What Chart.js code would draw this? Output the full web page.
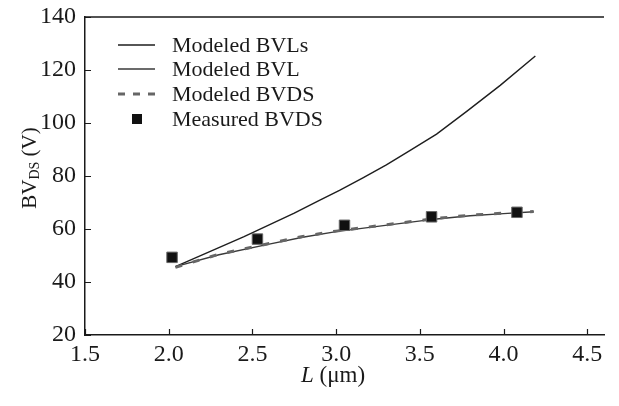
<!DOCTYPE html>
<html>
<head>
<meta charset="utf-8">
<script src="https://cdn.jsdelivr.net/npm/chart.js@4"></script>
<style>
  html, body { margin: 0; padding: 0; background: #fff; }
  #wrap { width: 619px; height: 406px; }
</style>
</head>
<body>
<div id="wrap"><canvas id="bv-chart" width="619" height="406"></canvas></div>
<script>
/* breakdown voltage vs. channel length L (um) */
const bvlsL = [2.04, 2.45, 2.75, 2.9, 3.02, 3.16, 3.3, 3.44, 3.6, 3.78, 3.98, 4.19];
const bvlsV = [45.8, 57.1, 66.0, 70.8, 74.6, 79.3, 84.2, 89.6, 95.8, 104.4, 114.2, 125.3];

const bvlL = [2.04, 2.3, 2.6, 2.8, 3.0, 3.2, 3.4, 3.6, 3.8, 4.0, 4.18];
const bvlV = [45.8, 50.3, 54.3, 56.9, 59.0, 60.6, 62.2, 63.8, 65.0, 65.8, 66.5];

const bvdsL = [2.04, 2.3, 2.6, 2.8, 3.0, 3.2, 3.4, 3.6, 3.8, 4.0, 4.18];
const bvdsV = [45.5, 50.5, 54.5, 57.2, 59.2, 60.8, 62.4, 64.0, 65.2, 66.0, 66.6];

const measL = [2.02, 2.53, 3.05, 3.57, 4.08];
const measV = [49.3, 56.2, 61.4, 64.6, 66.3];

const seriesNames = ['Modeled BVLs', 'Modeled BVL', 'Modeled BVDS', 'Measured BVDS'];
const xTicks = [1.5, 2.0, 2.5, 3.0, 3.5, 4.0, 4.5];
const yTicks = [20, 40, 60, 80, 100, 120, 140];

const serif = '"Liberation Serif", "DejaVu Serif", serif';
const ink = '#1a1a1a';

function pts(xs, ys) {
  return xs.map((x, i) => ({ x: x, y: ys[i] }));
}

const data = {
  datasets: [
    {
      label: seriesNames[3],
      data: pts(measL, measV),
      showLine: false,
      pointStyle: 'rect',
      pointRadius: 7.4,
      pointBackgroundColor: '#111',
      pointBorderColor: '#666',
      pointBorderWidth: 1,
      order: 0,
    },
    {
      label: seriesNames[2],
      data: pts(bvdsL, bvdsV),
      borderColor: '#666',
      borderWidth: 3,
      borderDash: [7, 11],
      pointRadius: 0,
      order: 1,
    },
    {
      label: seriesNames[1],
      data: pts(bvlL, bvlV),
      borderColor: '#3a3a3a',
      borderWidth: 1.4,
      pointRadius: 0,
      order: 2,
    },
    {
      label: seriesNames[0],
      data: pts(bvlsL, bvlsV),
      borderColor: '#1e1e1e',
      borderWidth: 1.4,
      pointRadius: 0,
      order: 3,
    },
  ],
};

/* frame top line, inward tick marks, axis titles and the in-plot legend */
const decor = {
  id: 'decor',
  afterDraw(chart) {
    const ctx = chart.ctx;
    const a = chart.chartArea;
    const xs = chart.scales.x;
    const ys = chart.scales.y;
    ctx.save();

    ctx.strokeStyle = ink;
    ctx.lineWidth = 1.5;
    ctx.beginPath();
    ctx.moveTo(a.left, a.top);
    ctx.lineTo(a.right, a.top);
    ctx.stroke();

    // tick marks pointing into the plot
    ctx.lineWidth = 1.2;
    ctx.beginPath();
    xTicks.forEach((v) => {
      const px = Math.round(xs.getPixelForValue(v)) + 0.5;
      ctx.moveTo(px, a.bottom);
      ctx.lineTo(px, a.bottom - 6);
    });
    yTicks.forEach((v) => {
      const py = Math.round(ys.getPixelForValue(v)) + 0.5;
      ctx.moveTo(a.left, py);
      ctx.lineTo(a.left + 6, py);
    });
    ctx.stroke();

    ctx.fillStyle = ink;
    ctx.textBaseline = 'middle';

    // x title: italic L (um)
    const xt1 = 'L';
    const xt2 = ' (\u03bcm)';
    ctx.font = 'italic 23px ' + serif;
    const w1 = ctx.measureText(xt1).width;
    ctx.font = '23px ' + serif;
    const w2 = ctx.measureText(xt2).width;
    const x0 = 333 - (w1 + w2) / 2;
    ctx.textAlign = 'left';
    ctx.font = 'italic 23px ' + serif;
    ctx.fillText(xt1, x0, 376);
    ctx.font = '23px ' + serif;
    ctx.fillText(xt2, x0 + w1, 376);

    // y title: BV_DS (V), rotated
    ctx.save();
    ctx.translate(30, 168);
    ctx.rotate(-Math.PI / 2);
    ctx.font = '21px ' + serif;
    const b1 = ctx.measureText('BV').width;
    const b3 = ctx.measureText(' (V)').width;
    ctx.font = '14px ' + serif;
    const b2 = ctx.measureText('DS').width;
    const s = -(b1 + b2 + b3) / 2;
    ctx.font = '21px ' + serif;
    ctx.fillText('BV', s, 0);
    ctx.font = '14px ' + serif;
    ctx.fillText('DS', s + b1, 5);
    ctx.font = '21px ' + serif;
    ctx.fillText(' (V)', s + b1 + b2, 0);
    ctx.restore();

    // legend
    const rows = [45, 69, 94, 119];
    const sx1 = 118, sx2 = 155, tx = 172;
    data.datasets.forEach((ds) => {
      const k = seriesNames.indexOf(ds.label);
      const y = rows[k];
      if (ds.showLine === false) {
        ctx.fillStyle = '#111';
        ctx.fillRect(132, y - 5, 10, 10);
      } else {
        ctx.strokeStyle = ds.borderColor;
        ctx.lineWidth = ds.borderWidth;
        ctx.setLineDash(ds.borderDash ? [7, 8] : []);
        ctx.beginPath();
        ctx.moveTo(sx1, y);
        ctx.lineTo(sx2, y);
        ctx.stroke();
        ctx.setLineDash([]);
      }
      ctx.fillStyle = ink;
      ctx.font = '22px ' + serif;
      ctx.textAlign = 'left';
      ctx.fillText(ds.label, tx, y + 1);
    });

    ctx.restore();
  },
};

const config = {
  type: 'line',
  data,
  options: {
    responsive: false,
    animation: false,
    layout: {
      padding: { top: 17, right: 15, bottom: 0, left: 0 },
    },
    plugins: {
      legend: { display: false },
      tooltip: { enabled: false },
    },
    elements: { line: { tension: 0 } },
    scales: {
      x: {
        type: 'linear',
        min: 1.5,
        max: 4.6,
        afterFit(scale) {
          scale.height = 71;
          scale.paddingLeft = 0;
          scale.paddingRight = 0;
        },
        afterBuildTicks(scale) { scale.ticks = xTicks.map((v) => ({ value: v })); },
        border: { display: true, color: ink, width: 1.5 },
        grid: { drawOnChartArea: false, drawTicks: false },
        ticks: {
          color: ink,
          padding: 5,
          maxRotation: 0,
          font: { family: serif, size: 24 },
          callback: (v) => v.toFixed(1),
        },
      },
      y: {
        type: 'linear',
        min: 20,
        max: 140,
        afterFit(scale) {
          scale.width = 85;
          scale.paddingTop = 0;
          scale.paddingBottom = 0;
        },
        afterBuildTicks(scale) { scale.ticks = yTicks.map((v) => ({ value: v })); },
        border: { display: true, color: ink, width: 1.5 },
        grid: { drawOnChartArea: false, drawTicks: false },
        ticks: {
          color: ink,
          padding: 9,
          font: { family: serif, size: 24 },
          callback: (v) => String(v),
        },
      },
    },
  },
  plugins: [decor],
};

new Chart(document.getElementById('bv-chart'), config);
</script>
</body>
</html>
